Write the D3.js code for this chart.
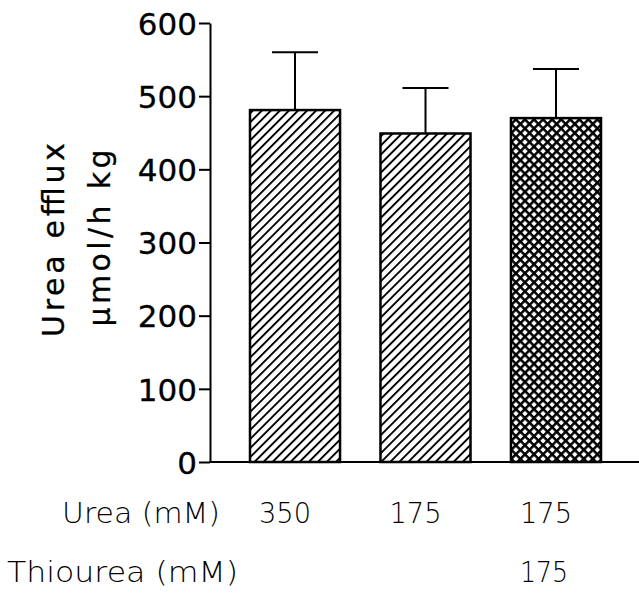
<!DOCTYPE html>
<html>
<head>
<meta charset="utf-8">
<script src="https://cdn.jsdelivr.net/npm/d3@7.9.0/dist/d3.min.js"></script>
<style>
  body { margin: 0; background: #fff; }
  svg { display: block; }
</style>
</head>
<body>
<div id="chart"></div>
<script>
// data
const groups = ["A", "B", "C"];
const means = [481, 449, 470];
const sems = [79, 62, 67];
const fills = ["diag", "diag", "cross"];
const ureaLabels = ["350", "175", "175"];
const thioLabels = ["", "", "175"];
const yTicks = [0, 100, 200, 300, 400, 500, 600];

const width = 639;
const height = 593;

const svg = d3.select("#chart")
  .append("svg")
  .attr("width", width)
  .attr("height", height);

const defs = svg.append("defs");

// single diagonal hatch (line on tile edge: half of stroke shows)
const diag = defs.append("pattern")
  .attr("id", "diag")
  .attr("patternUnits", "userSpaceOnUse")
  .attr("width", 6.4)
  .attr("height", 6.4)
  .attr("patternTransform", "rotate(45)");
diag.append("line")
  .attr("x1", 0).attr("y1", 0).attr("x2", 0).attr("y2", 6.4)
  .attr("stroke", "#000").attr("stroke-width", 3.8);

// cross hatch
const cross = defs.append("pattern")
  .attr("id", "cross")
  .attr("patternUnits", "userSpaceOnUse")
  .attr("width", 6.4)
  .attr("height", 6.4)
  .attr("patternTransform", "rotate(45)");
cross.append("line")
  .attr("x1", 0).attr("y1", 0).attr("x2", 0).attr("y2", 6.4)
  .attr("stroke", "#000").attr("stroke-width", 5);
cross.append("line")
  .attr("x1", 0).attr("y1", 0).attr("x2", 6.4).attr("y2", 0)
  .attr("stroke", "#000").attr("stroke-width", 5);

const yScale = d3.scaleLinear().domain([0, 600]).range([462, 23]);
const xScale = d3.scaleBand()
  .domain(groups)
  .range([250, 601])
  .paddingInner(0.31)
  .paddingOuter(0);

// bars
svg.append("g")
  .selectAll("rect")
  .data(groups)
  .join("rect")
  .attr("x", d => xScale(d))
  .attr("y", (d, i) => yScale(means[i]))
  .attr("width", xScale.bandwidth())
  .attr("height", (d, i) => yScale(0) - yScale(means[i]))
  .attr("fill", (d, i) => `url(#${fills[i]})`)
  .attr("stroke", "#000")
  .attr("stroke-width", 2.5);

// error bars (upper only)
const err = svg.append("g").attr("stroke", "#000").attr("stroke-width", 2);
groups.forEach((g, i) => {
  const cx = xScale(g) + xScale.bandwidth() / 2;
  err.append("line")
    .attr("x1", cx).attr("x2", cx)
    .attr("y1", yScale(means[i])).attr("y2", yScale(means[i] + sems[i]));
  err.append("line")
    .attr("x1", cx - 23).attr("x2", cx + 23)
    .attr("y1", yScale(means[i] + sems[i])).attr("y2", yScale(means[i] + sems[i]));
});

// y axis
const yAxis = svg.append("g")
  .attr("transform", "translate(210,0)")
  .call(d3.axisLeft(yScale).tickValues(yTicks).tickSize(11).tickSizeOuter(0).tickPadding(2));
yAxis.select(".domain").attr("stroke-width", 2);
yAxis.selectAll(".tick line").attr("stroke-width", 2);
yAxis.selectAll(".tick text")
  .attr("font-family", "DejaVu Sans, sans-serif")
  .attr("font-size", 31)
  .attr("dy", "0.36em")
  .attr("fill", "#000")
  .attr("stroke", "#000")
  .attr("stroke-width", 0.3);

// x axis baseline
svg.append("line")
  .attr("x1", 209).attr("x2", width)
  .attr("y1", yScale(0)).attr("y2", yScale(0))
  .attr("stroke", "#000").attr("stroke-width", 2);

// y label
const ylab = svg.append("g")
  .attr("font-family", "DejaVu Sans, sans-serif")
  .attr("font-size", 30)
  .attr("fill", "#000")
  .attr("stroke", "#000")
  .attr("stroke-width", 0.3)
  .attr("text-anchor", "middle");
ylab.append("text")
  .attr("transform", "translate(64,240) rotate(-90)")
  .attr("textLength", 194)
  .attr("lengthAdjust", "spacing")
  .text("Urea efflux");
ylab.append("text")
  .attr("transform", "translate(110,238) rotate(-90)")
  .attr("textLength", 177)
  .attr("lengthAdjust", "spacing")
  .text("µmol/h kg");

// condition rows
const rows = svg.append("g")
  .attr("font-family", "'DejaVu Sans', sans-serif")
  .attr("font-weight", 200)
  .attr("font-size", 29)
  .attr("fill", "#000");
rows.append("text")
  .attr("x", 62).attr("y", 523)
  .attr("textLength", 158)
  .attr("lengthAdjust", "spacingAndGlyphs")
  .text("Urea (mM)");
rows.append("text")
  .attr("x", 7).attr("y", 582)
  .attr("textLength", 231)
  .attr("lengthAdjust", "spacingAndGlyphs")
  .text("Thiourea (mM)");
rows.selectAll(".u")
  .data(groups)
  .join("text")
  .attr("class", "u")
  .attr("x", d => xScale(d) + xScale.bandwidth() / 2 - 36)
  .attr("y", 523)
  .attr("textLength", 52)
  .attr("lengthAdjust", "spacingAndGlyphs")
  .text((d, i) => ureaLabels[i]);
rows.selectAll(".t")
  .data(groups.filter((d, i) => thioLabels[i]))
  .join("text")
  .attr("class", "t")
  .attr("x", d => xScale(d) + xScale.bandwidth() / 2 - 36)
  .attr("y", 582)
  .attr("textLength", 48)
  .attr("lengthAdjust", "spacingAndGlyphs")
  .text(d => thioLabels[groups.indexOf(d)]);
</script>
</body>
</html>
